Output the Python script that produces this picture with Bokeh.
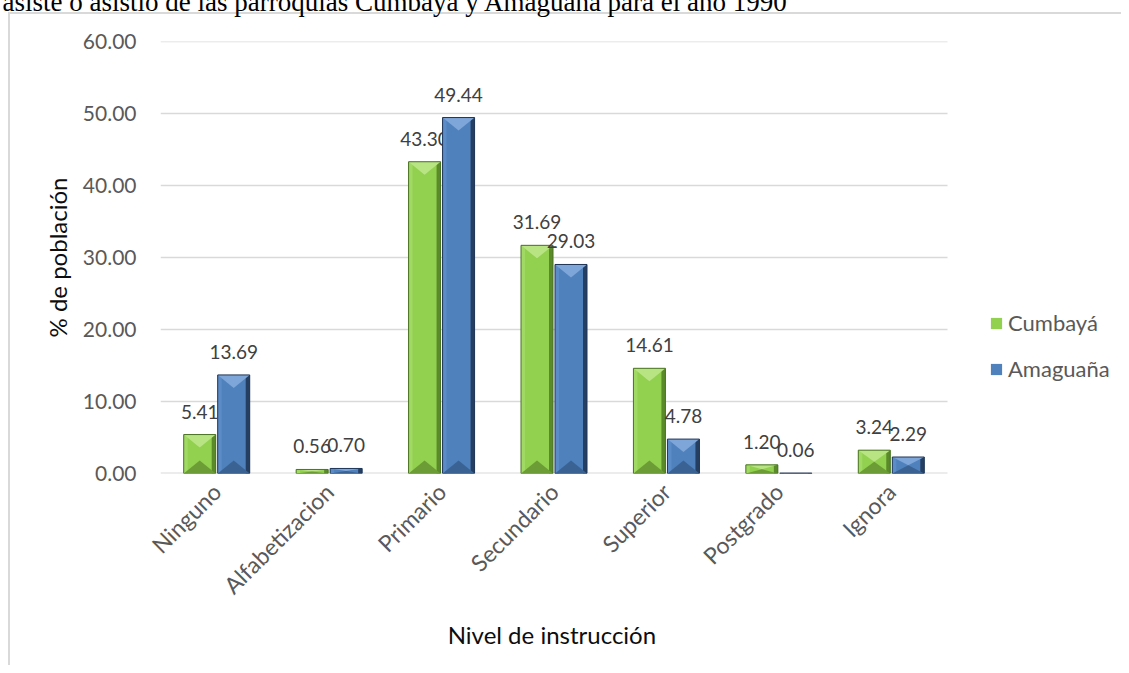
import math
from bokeh.plotting import figure
from bokeh.models import (Range1d, FixedTicker, NumeralTickFormatter, Legend, LegendItem,
                          ColumnDataSource)
from bokeh.core.properties import value
from bokeh.embed import file_html
from bokeh.resources import INLINE

# ---------------- data ----------------
categories = ["Ninguno", "Alfabetizacion", "Primario", "Secundario", "Superior", "Postgrado", "Ignora"]
cumbaya = [5.41, 0.56, 43.30, 31.69, 14.61, 1.20, 3.24]
amaguana = [13.69, 0.70, 49.44, 29.03, 4.78, 0.06, 2.29]
series_names = ["Cumbayá", "Amaguaña"]
y_ticks = [0, 10, 20, 30, 40, 50, 60]
title_text = "asiste o asistió de las parroquias Cumbayá y Amaguaña para el año 1990"
x_title = "Nivel de instrucción"
y_title = "% de población"

# ---------------- layout (canvas = page + shift) ----------------
SX, SY = 8, 43
W, H = 1129, 665 + SY
FL, FT, FB = 160 + SX, 41 + SY, 473 + SY
CAT_RIGHT = 947 + SX          # where the category area ends
YMAX = 60
n = len(categories)
px_x = (CAT_RIGHT - FL) / n
px_y = (FB - FT) / YMAX
x_end = -0.5 + (W - FL) / px_x

p = figure(width=W, height=H, output_backend="svg", toolbar_location=None,
           x_range=Range1d(-0.5, x_end), y_range=Range1d(0, YMAX),
           min_border_left=FL, min_border_right=0,
           min_border_top=FT, min_border_bottom=H - FB, title=title_text)
p.styles = {
    "margin-left": f"-{SX}px", "margin-top": f"-{SY}px",
    "background": (f"linear-gradient(#d9d9d9,#d9d9d9) {8 + SX}px {12 + SY}px / 2px 100% no-repeat, "
                   f"linear-gradient(#d9d9d9,#d9d9d9) {8 + SX}px {12 + SY}px / 100% 2px no-repeat, white"),
}
p.outline_line_color = None
p.background_fill_color = "white"
p.border_fill_alpha = 0

# cut-off heading text at the very top
p.title.text_font = "Liberation Serif"
p.title.text_font_size = "27px"
p.title.text_font_style = "normal"
p.title.text_color = "black"
p.title.align = "left"
p.title.vertical_align = "bottom"
p.title.offset = 2 + SX - FL
p.title.standoff = 50

# ---------------- grid (only over the category area) ----------------
p.segment(x0=-0.5, x1=n - 0.5, y0=y_ticks[1:], y1=y_ticks[1:],
          line_color="#d9d9d9", line_width=1.5)
p.segment(x0=-0.5, x1=n - 0.5, y0=y_ticks[0], y1=y_ticks[0],
          line_color="#d9d9d9", line_width=2)

# ---------------- bars ----------------
bw = 32 / px_x
off = 17 / px_x
bev = 13 / px_y
strip = 4 / px_x

styles = [
    dict(face="#92d050", top="#b9e484", bot="#6c9c35", left="#a0d963", right="#5a8a2a", edge="#4a7224"),
    dict(face="#4f81bd", top="#7ea6d8", bot="#3a6394", left="#5c8cc7", right="#253f63", edge="#1e3556"),
]

renderers = []
for vals, shift, st in ((cumbaya, -off, styles[0]), (amaguana, off, styles[1])):
    xc = [i + shift for i in range(n)]
    src = ColumnDataSource(dict(x=xc, top=vals))
    r = p.vbar(x="x", top="top", width=bw, bottom=0, source=src,
               fill_color=st["face"], line_color=None)
    renderers.append(r)
    p.quad(left=[x - bw / 2 for x in xc], right=[x - bw / 2 + strip for x in xc],
           bottom=0, top=vals, fill_color=st["left"], line_color=None)
    p.quad(left=[x + bw / 2 - strip for x in xc], right=[x + bw / 2 for x in xc],
           bottom=0, top=vals, fill_color=st["right"], line_color=None)
    txs, tys, bxs, bys = [], [], [], []
    for x, v in zip(xc, vals):
        b = min(bev, v / 2)
        txs.append([x - bw / 2, x + bw / 2, x])
        tys.append([v, v, v - b])
        bxs.append([x - bw / 2, x + bw / 2, x])
        bys.append([0, 0, b])
    p.patches(xs=txs, ys=tys, fill_color=st["top"], line_color=None)
    p.patches(xs=bxs, ys=bys, fill_color=st["bot"], line_color=None)
    p.vbar(x="x", top="top", width=bw, bottom=0, source=src,
           fill_color=None, line_color=st["edge"], line_width=1)
    p.text(x=xc, y=vals, text=[f"{v:.2f}" for v in vals],
           text_font=value("Lato"), text_font_size="19px", text_color="#404040",
           text_align="center", text_baseline="bottom", y_offset=-16)

# ---------------- axes ----------------
pad = "\u00a0" * 29   # keeps the x title centred under the category area
p.xaxis.ticker = FixedTicker(ticks=list(range(n)))
p.xaxis.major_label_overrides = {i: c for i, c in enumerate(categories)}
p.xaxis.major_label_orientation = math.pi / 4
p.xaxis.major_label_text_font = "Lato"
p.xaxis.major_label_text_font_size = "23px"
p.xaxis.major_label_text_color = "#595959"
p.xaxis.major_label_standoff = 8
p.xaxis.axis_line_color = None
p.xaxis.major_tick_line_color = None
p.xaxis.minor_tick_line_color = None
p.xaxis.axis_label = x_title + pad
p.xaxis.axis_label_text_font = "Lato"
p.xaxis.axis_label_text_font_size = "24px"
p.xaxis.axis_label_text_font_style = "normal"
p.xaxis.axis_label_text_color = "#0d0d0d"
p.xaxis.axis_label_standoff = 8

p.yaxis.ticker = FixedTicker(ticks=y_ticks)
p.yaxis.formatter = NumeralTickFormatter(format="0.00")
p.yaxis.major_label_text_font = "Lato"
p.yaxis.major_label_text_font_size = "21px"
p.yaxis.major_label_text_color = "#595959"
p.yaxis.major_label_standoff = 18
p.yaxis.axis_line_color = None
p.yaxis.major_tick_line_color = None
p.yaxis.minor_tick_line_color = None
p.yaxis.axis_label = y_title
p.yaxis.axis_label_text_font = "Lato"
p.yaxis.axis_label_text_font_size = "24px"
p.yaxis.axis_label_text_font_style = "normal"
p.yaxis.axis_label_text_color = "#0d0d0d"
p.yaxis.axis_label_standoff = 8

p.xgrid.visible = False
p.ygrid.visible = False

# ---------------- legend ----------------
legend = Legend(items=[LegendItem(label=series_names[0], renderers=[renderers[0]]),
                       LegendItem(label=series_names[1], renderers=[renderers[1]])],
                location=(989 + SX - FL, FB - (382 + SY)), orientation="vertical",
                label_text_font="Lato", label_text_font_size="22px", label_text_color="#595959",
                glyph_width=14, glyph_height=14, label_standoff=5, spacing=19, label_height=26,
                padding=0, margin=0, border_line_color=None, background_fill_alpha=0)
p.add_layout(legend)

open("out.html", "w").write(file_html(p, INLINE))
